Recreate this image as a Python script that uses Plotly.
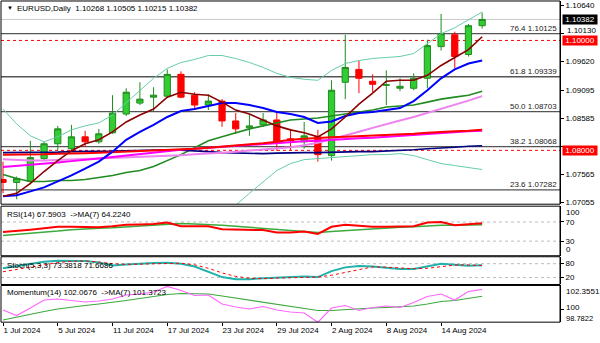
import plotly.graph_objects as go

# ---------------- data ----------------
dates = ["2024-07-01", "2024-07-02", "2024-07-03", "2024-07-04", "2024-07-05",
         "2024-07-08", "2024-07-09", "2024-07-10", "2024-07-11", "2024-07-12",
         "2024-07-15", "2024-07-16", "2024-07-17", "2024-07-18", "2024-07-19",
         "2024-07-22", "2024-07-23", "2024-07-24", "2024-07-25", "2024-07-26",
         "2024-07-29", "2024-07-30", "2024-07-31", "2024-08-01", "2024-08-02",
         "2024-08-05", "2024-08-06", "2024-08-07", "2024-08-08", "2024-08-09",
         "2024-08-12", "2024-08-13", "2024-08-14", "2024-08-15", "2024-08-16",
         "2024-08-19"]

opens = [1.07470, 1.07416, 1.07434, 1.07850, 1.08120, 1.08030, 1.08246, 1.08156, 1.08319, 1.08661,
         1.08860, 1.08968, 1.08986, 1.09383, 1.09004, 1.08824, 1.08896, 1.08535, 1.08409, 1.08463,
         1.08553, 1.08210, 1.08156, 1.08246, 1.07904, 1.09239, 1.09473, 1.09257, 1.09184, 1.09130,
         1.09130, 1.09311, 1.09888, 1.10104, 1.09744, 1.10268]
highs = [1.07795, 1.07525, 1.08174, 1.08156, 1.08445, 1.08463, 1.08355, 1.08391, 1.09004, 1.09130,
         1.09239, 1.09148, 1.09473, 1.09437, 1.09058, 1.09022, 1.08932, 1.08679, 1.08661, 1.08679,
         1.08697, 1.08391, 1.08517, 1.08373, 1.09275, 1.10104, 1.09635, 1.09383, 1.09455, 1.09311,
         1.09401, 1.10014, 1.10483, 1.10159, 1.10300, 1.10505]
lows = [1.07218, 1.07110, 1.07380, 1.07813, 1.07994, 1.07994, 1.08066, 1.08120, 1.08301, 1.08625,
        1.08824, 1.08715, 1.08968, 1.08950, 1.08751, 1.08733, 1.08427, 1.08301, 1.08264, 1.08427,
        1.07994, 1.07994, 1.08030, 1.07795, 1.07813, 1.08932, 1.09040, 1.09058, 1.08824, 1.09076,
        1.09094, 1.09130, 1.09816, 1.09491, 1.09707, 1.10215]
closes = [1.07416, 1.07489, 1.07868, 1.08120, 1.08391, 1.08246, 1.08156, 1.08301, 1.08679, 1.09058,
          1.08932, 1.09004, 1.09383, 1.08968, 1.08824, 1.08896, 1.08535, 1.08391, 1.08445, 1.08553,
          1.08156, 1.08174, 1.08264, 1.07922, 1.09094, 1.09509, 1.09311, 1.09202, 1.09193, 1.09166,
          1.09311, 1.09906, 1.10123, 1.09708, 1.10268, 1.10382]

ma_maroon = [1.07164, 1.07218, 1.07398, 1.07615, 1.07813, 1.07994, 1.08120, 1.08192, 1.08337, 1.08517,
             1.08643, 1.08751, 1.08968, 1.09058, 1.09022, 1.09004, 1.08878, 1.08733, 1.08661, 1.08553,
             1.08445, 1.08373, 1.08319, 1.08246, 1.08391, 1.08607, 1.08842, 1.09040, 1.09257, 1.09275,
             1.09275, 1.09365, 1.09545, 1.09690, 1.09834, 1.10068]
ma_blue = [1.07164, 1.07182, 1.07254, 1.07326, 1.07434, 1.07543, 1.07669, 1.07795, 1.07976, 1.08192,
           1.08337, 1.08463, 1.08607, 1.08715, 1.08751, 1.08806, 1.08860, 1.08860, 1.08824, 1.08770,
           1.08697, 1.08661, 1.08607, 1.08499, 1.08526, 1.08625, 1.08679, 1.08697, 1.08733, 1.08770,
           1.08896, 1.09094, 1.09311, 1.09473, 1.09581, 1.09635]
ma_green = [1.07561, 1.07489, 1.07434, 1.07434, 1.07452, 1.07452, 1.07470, 1.07507, 1.07543, 1.07597,
            1.07633, 1.07705, 1.07813, 1.07922, 1.08048, 1.08174, 1.08246, 1.08319, 1.08391, 1.08445,
            1.08499, 1.08553, 1.08571, 1.08589, 1.08625, 1.08661, 1.08697, 1.08733, 1.08788, 1.08806,
            1.08824, 1.08878, 1.08932, 1.08968, 1.09004, 1.09076]
bb_upper = [1.08751, 1.08481, 1.08264, 1.08156, 1.08246, 1.08373, 1.08445, 1.08499, 1.08643, 1.08860,
            1.09094, 1.09311, 1.09491, 1.09599, 1.09654, 1.09726, 1.09726, 1.09672, 1.09599, 1.09509,
            1.09401, 1.09328, 1.09293, 1.09275, 1.09455, 1.09581, 1.09635, 1.09672, 1.09690, 1.09708,
            1.09762, 1.09942, 1.10123, 1.10231, 1.10375, 1.10519]
bb_lower = [1.06370, 1.06442, 1.06605, 1.06677, 1.06659, 1.06532, 1.06496, 1.06514, 1.06442, 1.06334,
            1.06172, 1.06100, 1.06136, 1.06244, 1.06442, 1.06623, 1.06767, 1.07002, 1.07218, 1.07434,
            1.07633, 1.07759, 1.07831, 1.07850, 1.07868, 1.07886, 1.07904, 1.07922, 1.07922, 1.07940,
            1.07904, 1.07831, 1.07759, 1.07723, 1.07687, 1.07651]
ma_red = [1.07922, 1.07922, 1.07922, 1.07931, 1.07940, 1.07940, 1.07949, 1.07958, 1.07967, 1.07976,
          1.07985, 1.07994, 1.08012, 1.08021, 1.08030, 1.08048, 1.08066, 1.08084, 1.08102, 1.08129,
          1.08156, 1.08192, 1.08210, 1.08228, 1.08237, 1.08246, 1.08255, 1.08264, 1.08282, 1.08291,
          1.08301, 1.08319, 1.08337, 1.08346, 1.08355, 1.08373]
ma_magenta = [1.07696, 1.07714, 1.07732, 1.07750, 1.07777, 1.07804, 1.07822, 1.07850, 1.07877, 1.07904,
              1.07940, 1.07967, 1.07994, 1.08012, 1.08030, 1.08048, 1.08066, 1.08084, 1.08093, 1.08111,
              1.08129, 1.08147, 1.08165, 1.08174, 1.08192, 1.08201, 1.08219, 1.08228, 1.08246, 1.08264,
              1.08282, 1.08301, 1.08319, 1.08328, 1.08346, 1.08355]
ma_violet = [1.07840, 1.07822, 1.07813, 1.07813, 1.07822, 1.07831, 1.07840, 1.07850, 1.07859, 1.07868,
             1.07877, 1.07886, 1.07904, 1.07913, 1.07931, 1.07940, 1.07958, 1.07976, 1.07994, 1.08012,
             1.08030, 1.08057, 1.08093, 1.08138, 1.08201, 1.08264, 1.08337, 1.08409, 1.08481, 1.08544,
             1.08607, 1.08679, 1.08751, 1.08824, 1.08905, 1.08986]
ma_navy = [1.07958, 1.07958, 1.07958, 1.07967, 1.07967, 1.07976, 1.07976, 1.07976, 1.07985, 1.07994,
           1.08003, 1.08012, 1.08012, 1.08003, 1.07994, 1.07976, 1.07958, 1.07949, 1.07940, 1.07940,
           1.07949, 1.07958, 1.07958, 1.07958, 1.07967, 1.07967, 1.07976, 1.07976, 1.07985, 1.07994,
           1.08012, 1.08030, 1.08039, 1.08057, 1.08075, 1.08084]

rsi = [49, 51, 54, 57, 60, 60, 59, 59, 61, 64, 65, 66, 69, 61, 61, 61, 55, 54, 54, 53,
       48, 48, 50, 45, 60, 64, 62, 60, 60, 60, 61, 69, 70, 63, 66, 67.5903]
rsi_ma = [42, 44, 46, 48, 51, 54, 56, 57, 58, 60, 62, 64, 66, 67, 66, 65, 63, 61, 59, 57,
          54, 52, 50, 48, 50, 52, 54, 56, 58, 59, 60, 62, 63, 63, 64, 64.2240]
stoch_k = [60, 70, 80, 88, 93, 94, 92, 85, 72, 76, 80, 83, 84, 80, 68, 45, 22, 13, 13, 17,
           20, 24, 25, 22, 48, 64, 70, 68, 62, 57, 57, 68, 80, 75, 71, 73.3818]
stoch_d = [45, 55, 65, 77, 85, 90, 92, 87, 80, 77, 78, 80, 83, 82, 75, 60, 40, 25, 17, 15,
           18, 20, 23, 22, 30, 42, 56, 66, 65, 60, 58, 60, 66, 74, 75, 71.6686]
mom = [100.0, 99.45, 100.2, 101.0, 101.1, 100.95, 100.8, 100.9, 101.1, 101.5, 101.6, 101.8,
       102.3551, 101.95, 101.45, 101.5, 100.6, 100.3, 100.1, 100.35, 100.0, 99.8, 99.7, 98.7822,
       100.2, 100.45, 99.95, 100.25, 100.4, 100.25, 100.75, 101.35, 101.6, 101.0, 101.85, 102.0676]
mom_ma = [99.0, 99.3, 99.6, 99.85, 100.1, 100.3, 100.45, 100.6, 100.75, 100.95, 101.15, 101.35,
          101.55, 101.65, 101.65, 101.6, 101.4, 101.2, 101.0, 100.8, 100.6, 100.4, 100.2, 99.95,
          99.95, 100.05, 100.1, 100.2, 100.25, 100.3, 100.4, 100.6, 100.85, 100.95, 101.15, 101.3723]

fib_levels = [("76.4", 1.10125), ("61.8", 1.09339), ("50.0", 1.08703), ("38.2", 1.08068), ("23.6", 1.07282)]
hlines_red = [1.10000, 1.08000]
bid_price = 1.10382
price_ticks = [1.10640, 1.10130, 1.09620, 1.09095, 1.08585, 1.08075, 1.07565, 1.07055]
# labels drawn directly by the axis; 1.10130 is drawn nudged, 1.08075 sits behind the 1.08000 box
price_ticktext = ["1.10640", "", "1.09620", "1.09095", "1.08585", "", "1.07565", "1.07055"]
tick_idx = [0, 4, 8, 12, 16, 20, 24, 28, 32]
tick_text = ["1 Jul 2024", "5 Jul 2024", "11 Jul 2024", "17 Jul 2024", "23 Jul 2024",
             "29 Jul 2024", "2 Aug 2024", "8 Aug 2024", "14 Aug 2024"]
title_text = "EURUSD,Daily  1.10268 1.10505 1.10215 1.10382"
rsi_text = "RSI(14) 67.5903  ->MA(7) 64.2240"
stoch_text = "Stoch(5,3,3) 73.3818 71.6686"
mom_text = "Momentum(14) 102.0676  ->MA(7) 101.3723"

# ---------------- layout helpers ----------------
W, H = 600, 343
FONT = "Liberation Sans, Arial, sans-serif"
def fx(p):
    return p / W
def fy(p):
    return 1 - p / H

X0, X1 = 1, 560
P_MAIN = (1, 206)
P_RSI = (208, 258)
P_STO = (259, 287)
P_MOM = (288, 325)

fig = go.Figure()

fig.add_trace(go.Candlestick(
    x=dates, open=opens, high=highs, low=lows, close=closes,
    increasing=dict(line=dict(color="#1E8C1E", width=1), fillcolor="#32CD32"),
    decreasing=dict(line=dict(color="#FF0000", width=1), fillcolor="#FF0000"),
    whiskerwidth=0, xaxis="x", yaxis="y", hoverinfo="skip", showlegend=False))

def line(y, color, width, axis="y", dash="solid"):
    fig.add_trace(go.Scatter(x=dates, y=y, mode="lines", xaxis="x" if axis == "y" else "x" + axis[1:],
                             yaxis=axis, line=dict(color=color, width=width, dash=dash),
                             hoverinfo="skip", showlegend=False, cliponaxis=True))

line(bb_upper, "#66CDAA", 1)
line(bb_lower, "#66CDAA", 1)
line(ma_green, "#228B22", 1.6)
line(ma_navy, "#000080", 1.6)
line(ma_violet, "#EE82EE", 2)
line(ma_magenta, "#FF00FF", 2)
line(ma_red, "#FF0000", 2)
line(ma_blue, "#0000FF", 2)
line(ma_maroon, "#8B0000", 1.6)

line(rsi_ma, "#3CAA3C", 1.5, "y2")
line(rsi, "#FF0000", 2, "y2")
line(stoch_k, "#20B2AA", 2, "y3")
line(stoch_d, "#FF0000", 1, "y3", dash="dot")
line(mom_ma, "#3CAA3C", 1.2, "y4")
line(mom, "#FF66FF", 1.2, "y4")

shapes = []
for _, lv in fib_levels:
    shapes.append(dict(type="line", xref="paper", yref="y", x0=fx(X0), x1=fx(X1), y0=lv, y1=lv,
                       line=dict(color="#555555", width=1.3), layer="below"))
shapes.append(dict(type="line", xref="paper", yref="y", x0=fx(X0), x1=fx(X1), y0=bid_price, y1=bid_price,
                   line=dict(color="#C8C8C8", width=1), layer="below"))
for lv in hlines_red:
    shapes.append(dict(type="line", xref="paper", yref="y", x0=fx(X0), x1=fx(X1), y0=lv, y1=lv,
                       line=dict(color="#FF0000", width=1, dash="3px,3px"), layer="below"))
for lv in (70, 30):
    shapes.append(dict(type="line", xref="paper", yref="y2", x0=fx(X0), x1=fx(X1), y0=lv, y1=lv,
                       line=dict(color="#BBBBBB", width=1, dash="dot"), layer="below"))
for lv in (80, 20):
    shapes.append(dict(type="line", xref="paper", yref="y3", x0=fx(X0), x1=fx(X1), y0=lv, y1=lv,
                       line=dict(color="#BBBBBB", width=1, dash="dot"), layer="below"))
for (a, b) in (P_MAIN, P_RSI, P_STO, P_MOM):
    shapes.append(dict(type="rect", xref="paper", yref="paper", x0=fx(X0), x1=fx(X1), y0=fy(b), y1=fy(a),
                       line=dict(color="#000000", width=1), fillcolor="rgba(0,0,0,0)", layer="above"))

ann = []
def txt(x, y, s, size=8, xanchor="left", color="#000000", **kw):
    d = dict(x=fx(x), y=fy(y), xref="paper", yref="paper", text=s, showarrow=False,
             xanchor=xanchor, yanchor="middle", font=dict(family=FONT, size=size, color=color))
    d.update(kw)
    ann.append(d)

txt(5, 8.5, "▼", size=6)
txt(15, 8.5, title_text)
txt(5, 216, rsi_text)
txt(5, 268, stoch_text)
txt(5, 295, mom_text)
txt(564, 214, "100")
txt(564, 252, "0")
txt(564, 294, "102.3551")
txt(564, 310.5, "100")
txt(564, 321.5, "98.7822", size=7.5)
txt(565, 30.5, "1.10130")

for name, lv in fib_levels:
    ann.append(dict(x=fx(559), y=lv, xref="paper", yref="y", text=f"{name} {lv:.5f}", showarrow=False,
                    xanchor="right", yanchor="bottom", yshift=-1,
                    font=dict(family=FONT, size=8, color="#222222")))

def box(v, bg):
    ann.append(dict(x=fx(562), y=v, xref="paper", yref="y", text=f"{v:.5f}", showarrow=False,
                    xanchor="left", yanchor="middle", bgcolor=bg, borderpad=0, width=34,
                    font=dict(family=FONT, size=8, color="#FFFFFF")))
box(bid_price, "#000000")
for lv in hlines_red:
    box(lv, "#FF0000")

xcommon = dict(domain=[fx(X0), fx(X1)], range=[-0.146, 40.687], type="category", showgrid=False,
               zeroline=False, showticklabels=False, ticks="", showline=False, fixedrange=True)
ycommon = dict(side="right", showgrid=False, zeroline=False, showline=True, linecolor="#000000",
               linewidth=1, ticks="outside", ticklen=3, tickcolor="#000000", fixedrange=True,
               tickfont=dict(family=FONT, size=8, color="#000000"))

fig.update_layout(
    width=W, height=H, autosize=False,
    margin=dict(l=0, r=0, t=0, b=0),
    paper_bgcolor="#FFFFFF", plot_bgcolor="#FFFFFF",
    showlegend=False, hovermode=False, boxgap=0.35,
    xaxis=dict(xcommon, anchor="y", rangeslider=dict(visible=False)),
    xaxis2=dict(xcommon, anchor="y2", matches="x"),
    xaxis3=dict(xcommon, anchor="y3", matches="x"),
    xaxis4=dict(xcommon, anchor="y4", matches="x", showticklabels=True, ticks="outside", ticklen=3,
                tickcolor="#000000", tickvals=[dates[i] for i in tick_idx], ticktext=tick_text,
                ticklabelposition="outside right",
                tickfont=dict(family=FONT, size=8, color="#000000")),
    yaxis=dict(ycommon, anchor="x", domain=[fy(P_MAIN[1]), fy(P_MAIN[0])], range=[1.07020, 1.10718],
               tickvals=price_ticks, ticktext=price_ticktext),
    yaxis2=dict(ycommon, anchor="x2", domain=[fy(P_RSI[1]), fy(P_RSI[0])], range=[-0.5, 103],
                tickvals=[70, 30], ticktext=["70", "30"]),
    yaxis3=dict(ycommon, anchor="x3", domain=[fy(P_STO[1]), fy(P_STO[0])], range=[-10, 110],
                tickvals=[80, 20], ticktext=["80", "20"]),
    yaxis4=dict(ycommon, anchor="x4", domain=[fy(P_MOM[1]), fy(P_MOM[0])], range=[98.7822, 102.454],
                tickvals=[100], ticktext=[""]),
    shapes=shapes, annotations=ann,
)

fig.write_html("out.html")
